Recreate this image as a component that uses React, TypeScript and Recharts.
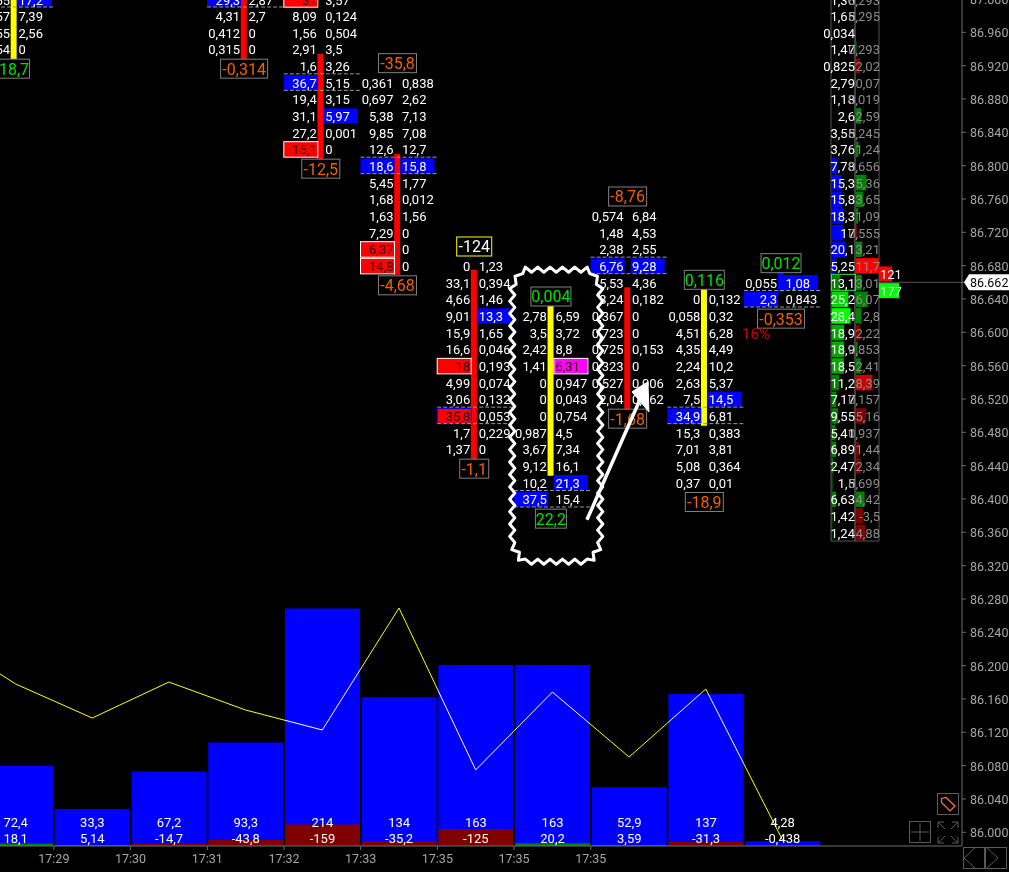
import React from "react";
import { ComposedChart, XAxis, YAxis, Bar, Line, Scatter, Cell, LabelList, ReferenceArea, ReferenceLine } from "recharts";

// ---------- axes ----------
const priceTicks = [86.0, 86.04, 86.08, 86.12, 86.16, 86.2, 86.24, 86.28, 86.32, 86.36, 86.4, 86.44, 86.48, 86.52, 86.56, 86.6, 86.64, 86.66, 86.68, 86.72, 86.76, 86.8, 86.84, 86.88, 86.92, 86.96, 87.0];
const lastPriceRow = 86.66;
const lastPriceText = "86.662";
const timeTicks = [0.5, 1.5, 2.5, 3.5, 4.5, 5.5, 6.5, 7.5];
const timeLabels = ["17:29", "17:30", "17:31", "17:32", "17:33", "17:35", "17:35", "17:35"];

// ---------- lower pane ----------
const cols = [0, 1, 2, 3, 4, 5, 6, 7, 8, 9, 10];
const volumes = [72.4, 33.3, 67.2, 93.3, 214, 134, 163, 163, 52.9, 137, 4.28];
const volumeText = ["72,4", "33,3", "67,2", "93,3", "214", "134", "163", "163", "52,9", "137", "4,28"];
const deltas = [18.1, 5.14, -14.7, -43.8, -159, -35.2, -125, 20.2, 3.59, -31.3, -0.438];
const deltaText = ["18,1", "5,14", "-14,7", "-43,8", "-159", "-35,2", "-125", "20,2", "3,59", "-31,3", "-0,438"];
const oscillator = [146, 115.3, 147.7, 122.5, 104.5, 214.4, 68.5, 138.7, 80.2, 141.4, 5.4];
const oscillatorAtEdge = 155;

// ---------- candles: [low, high] ----------
const wickLow = [86.928, null, null, 86.928, 86.808, 86.669, 86.448, 86.428, 86.508, 86.488, 86.648];
const wickHigh = [87.0, null, null, 87.0, 86.934, 86.814, 86.675, 86.634, 86.654, 86.654, 86.675];
const wickTone = ["yellow", "", "", "red", "red", "red", "red", "yellow", "red", "yellow", "blue"];

// ---------- footprint columns ----------
const col0Top = 87.0;
const col0Bid = ["1,55", "1,57", "1,55", "1,54"];
const col0Ask = ["17,2", "7,39", "2,56", "0"];
const col3Top = 87.0;
const col3Bid = ["29,3", "4,31", "0,412", "0,315"];
const col3Ask = ["2,87", "2,7", "0", "0"];
const col4Top = 87.0;
const col4Bid = ["31", "8,09", "1,56", "2,91", "1,6", "36,7", "19,4", "31,1", "27,2", "15,1"];
const col4Ask = ["3,57", "0,124", "0,504", "3,5", "3,26", "5,15", "3,15", "5,97", "0,001", "0"];
const col5Top = 86.9;
const col5Bid = ["0,361", "0,697", "5,38", "9,85", "12,6", "18,6", "5,45", "1,68", "1,63", "7,29", "6,37", "14,8"];
const col5Ask = ["0,838", "2,62", "7,13", "7,08", "12,7", "15,8", "1,77", "0,012", "1,56", "0", "0", "0"];
const col6Top = 86.68;
const col6Bid = ["0", "33,1", "4,66", "9,01", "15,9", "16,6", "18", "4,99", "3,06", "35,8", "1,7", "1,37"];
const col6Ask = ["1,23", "0,394", "1,46", "13,3", "1,65", "0,046", "0,193", "0,074", "0,132", "0,053", "0,229", "0"];
const col7Top = 86.62;
const col7Bid = ["2,78", "3,5", "2,42", "1,41", "0", "0", "0", "0,987", "3,67", "9,12", "10,2", "37,5"];
const col7Ask = ["6,59", "3,72", "8,8", "6,31", "0,947", "0,043", "0,754", "4,5", "7,34", "16,1", "21,3", "15,4"];
const col8Top = 86.74;
const col8Bid = ["0,574", "1,48", "2,38", "6,76", "5,53", "3,24", "0,367", "0,723", "0,725", "0,323", "0,527", "2,04"];
const col8Ask = ["6,84", "4,53", "2,55", "9,28", "4,36", "0,182", "0", "0", "0,153", "0", "0,006", "0,162"];
const col9Top = 86.64;
const col9Bid = ["0", "0,058", "4,51", "4,35", "2,24", "2,63", "7,5", "34,9", "15,3", "7,01", "5,08", "0,37"];
const col9Ask = ["0,132", "0,32", "6,28", "4,49", "10,2", "5,37", "14,5", "6,81", "0,383", "3,81", "0,364", "0,01"];
const col10Top = 86.66;
const col10Bid = ["0,055", "2,3"];
const col10Ask = ["1,08", "0,843"];

// [column, first price, bids, asks, point-of-control row]
const columnTable = [
  [0, col0Top, col0Bid, col0Ask, 0],
  [3, col3Top, col3Bid, col3Ask, 0],
  [4, col4Top, col4Bid, col4Ask, 5],
  [5, col5Top, col5Bid, col5Ask, 5],
  [6, col6Top, col6Bid, col6Ask, 9],
  [7, col7Top, col7Bid, col7Ask, 11],
  [8, col8Top, col8Bid, col8Ask, 3],
  [9, col9Top, col9Bid, col9Ask, 7],
  [10, col10Top, col10Bid, col10Ask, 1],
] as const;

// highlighted cells: "column:row:side" -> kind
const highlighted: Record<string, string> = {
  "0:0:a": "blue", "3:0:b": "blue", "4:0:b": "red", "4:5:b": "blue", "4:7:a": "blue", "4:9:b": "red",
  "5:5:b": "blue", "5:5:a": "blue", "5:10:b": "red", "5:11:b": "red",
  "6:3:a": "blue", "6:6:b": "red", "6:9:b": "redBlue",
  "7:3:a": "magenta", "7:10:a": "blue", "7:11:b": "blue",
  "8:3:b": "blue", "8:3:a": "blue", "9:6:a": "blue", "9:7:b": "blue",
  "10:0:a": "blue", "10:1:b": "blue",
};

const topBoxCols = [5, 6, 7, 8, 9, 10];
const topBoxPrices = [86.92, 86.7, 86.64, 86.76, 86.66, 86.68];
const topBoxText = ["-35,8", "-124", "0,004", "-8,76", "0,116", "0,012"];
const bottomBoxCols = [0, 3, 4, 5, 6, 7, 8, 9, 10];
const bottomBoxPrices = [86.92, 86.92, 86.8, 86.66, 86.44, 86.38, 86.5, 86.4, 86.62];
const bottomBoxText = ["18,7", "-0,314", "-12,5", "-4,68", "-1,1", "22,2", "-1,68", "-18,9", "-0,353"];

// ---------- right-hand session profile (87.00 downward) ----------
const profileTop = 87.0;
const profileLeft = ["1,36", "1,65", "0,034", "1,47", "0,825", "2,79", "1,18", "2,6", "3,55", "3,76", "7,78", "15,3", "15,8", "18,3", "17", "20,1", "5,25", "13,1", "25,2", "28,4", "18,9", "18,9", "18,5", "11,2", "7,17", "9,55", "5,41", "6,89", "2,47", "1,5", "6,63", "1,42", "1,24"];
const profileRight = ["0,293", "0,295", "", "0,293", "2,02", "0,07", "0,019", "2,59", "0,245", "1,24", "0,656", "5,36", "3,65", "1,09", "0,555", "3,21", "11,7", "3,01", "6,07", "2,8", "2,22", "0,853", "2,41", "8,39", "0,157", "5,16", "0,937", "1,44", "2,34", "0,699", "4,42", "-3,5", "4,88"];
const profileLeftSide = ["n", "n", "n", "n", "n", "n", "n", "n", "n", "n", "b", "b", "b", "b", "b", "b", "b", "g", "g", "g", "g", "g", "g", "g", "g", "g", "g", "g", "g", "g", "g", "g", "g"];
const profileRightSide = ["n", "n", "n", "g", "r", "n", "n", "g", "n", "g", "n", "g", "g", "g", "r", "g", "R", "g", "g", "g", "r", "g", "g", "M", "n", "r", "n", "r", "r", "n", "g", "r", "r"];
const profilePocRow = 17;
const sessionBid = "121";
const sessionAsk = "177";
const noteText = "16%";

// ---------- layout constants ----------
const W = 1009;
const H = 873;
const FONT = "Roboto, sans-serif";
const XMIN = -0.2021;
const XMAX = 12.34;
const WICK_SHIFT = 0.0196;
const YMIN = 85.98356;
const YMAX = 87.0;
const GREY = "#a6a6a6";
const AXIS = "#6e6e6e";
const PROFILE_X0 = 10.632;
const PROFILE_X1 = 10.945;
const PROFILE_X2 = 11.258;
const PROFILE_Y_BOTTOM = 86.3495;

const toneFill: Record<string, string> = { yellow: "#ffff00", red: "#ff0000", blue: "#0000ff", "": "none" };

const chartRows = cols.map((c, i) => ({
  col: c,
  volume: volumes[i],
  deltaAbs: Math.abs(deltas[i]),
  wick: wickLow[i] == null ? null : [wickLow[i], wickHigh[i]],
  tone: wickTone[i],
}));

const oscRows = [
  { col: XMIN, osc: oscillatorAtEdge },
  ...cols.map((c, i) => ({ col: c, osc: oscillator[i] })),
];

const footprintRows = columnTable.flatMap(([col, top, bids, asks, poc]) =>
  bids.map((bid, r) => ({
    col,
    price: +(top - r * 0.02).toFixed(2),
    bid,
    ask: asks[r],
    poc: r === poc,
    bidKind: highlighted[`${col}:${r}:b`] || "",
    askKind: highlighted[`${col}:${r}:a`] || "",
  }))
);

const boxRows = [
  ...topBoxCols.map((c, i) => ({ col: c, price: topBoxPrices[i], text: topBoxText[i], at: -2.5 })),
  ...bottomBoxCols.map((c, i) => ({ col: c, price: bottomBoxPrices[i], text: bottomBoxText[i], at: 3 })),
];

const profileRows = profileLeft.map((l, r) => ({
  col: PROFILE_X0,
  price: +(profileTop - r * 0.02).toFixed(2),
  left: l,
  right: profileRight[r],
  leftSide: profileLeftSide[r],
  rightSide: profileRightSide[r],
  poc: r === profilePocRow,
}));

const num = (s: string) => parseFloat(s.replace(",", ".")) || 0;

const Txt = (p: any) => (
  <text fontFamily={FONT} fontSize={13} fill="#fff" dominantBaseline="central" {...p} />
);

function FootprintCell({ cx, cy, payload }: any) {
  const c = cx - 1.5;
  const { bid, ask, poc, bidKind, askKind } = payload;
  const fill = (kind: string, x: number) => {
    if (!kind) return null;
    if (kind === "blue") return <rect x={x} y={cy - 7.3} width={34} height={15} fill="#0000ff" />;
    if (kind === "red") return <rect x={x} y={cy - 7.3} width={34} height={15.5} fill="#ff0000" stroke="#fff" />;
    if (kind === "redBlue") return <rect x={x} y={cy - 7.3} width={34} height={15} fill="#ff0000" stroke="#0000ff" />;
    return <rect x={x} y={cy - 7.3} width={34} height={15.5} fill="#ff00ff" stroke="#fff" />;
  };
  const dark = (k: string) => k === "red" || k === "redBlue" || k === "magenta";
  return (
    <g>
      {fill(bidKind, c - 37)}
      {fill(askKind, c + 3)}
      {poc && (
        <g stroke="#999" strokeDasharray="4 2">
          <line x1={c - 37} x2={c + 39} y1={cy - 8.5} y2={cy - 8.5} />
          <line x1={c - 37} x2={c + 39} y1={cy + 8} y2={cy + 8} />
        </g>
      )}
      <Txt x={c - 4} y={cy + 1} textAnchor="end" fill={dark(bidKind) ? "#300000" : "#fff"}>{bid}</Txt>
      <Txt x={c + 4.5} y={cy + 1} fill={dark(askKind) ? "#300000" : "#fff"}>{ask}</Txt>
    </g>
  );
}

const boxWidth = (t: string) =>
  [...t].reduce((w, ch) => w + (ch === "," ? 3 : ch === "-" ? 7 : 9), 1);

function DeltaBox({ cx, cy, payload }: any) {
  const c = cx - 1.5;
  const { text, at } = payload;
  const w = boxWidth(text);
  const neg = text.startsWith("-");
  const isTotal = text === "-124";
  return (
    <g>
      <rect x={c - w / 2} y={cy + at - 9.5} width={w} height={19} fill="#000" stroke={isTotal ? "#ffff00" : "#808080"} />
      <text x={c} y={cy + at + 0.5} textAnchor="middle" dominantBaseline="central" fontFamily={FONT} fontSize={16}
        fill={isTotal ? "#fff" : neg ? "#f06000" : "#00e000"}>{text}</text>
    </g>
  );
}

const rightFill: Record<string, string> = { g: "#008000", r: "#800000", R: "#ff0000", M: "#c80000" };
const leftFill = (side: string, v: number) =>
  side === "b" ? "#0000ff" : v >= 28 ? "#00ff00" : v >= 25 ? "#00d800" : v >= 18 ? "#00a800" : "#008000";

function ProfileRow({ cx, cy, payload }: any) {
  const { left, right, leftSide, rightSide, poc } = payload;
  return (
    <g>
      {leftSide !== "n" && <rect x={cx + 0.5} y={cy - 7.5} width={num(left) * 0.67} height={15.5} fill={leftFill(leftSide, num(left))} />}
      {rightSide !== "n" && <rect x={cx + 25} y={cy - 7.5} width={Math.abs(num(right)) * 1.95} height={15.5} fill={rightFill[rightSide]} />}
      {poc && <rect x={cx + 0.5} y={cy - 8} width={24} height={16} fill="none" stroke="#40e040" />}
      <Txt x={cx + 24} y={cy + 1} textAnchor="end">{left}</Txt>
      <Txt x={cx + 49} y={cy + 1} textAnchor="end" fill="#8c8c8c">{right}</Txt>
    </g>
  );
}

function SessionCell({ cx, cy, payload }: any) {
  const red = payload.kind === "bid";
  return (
    <g>
      <rect x={cx} y={cy - 7.5} width={red ? 13 : 20} height={15} fill={red ? "#ff0000" : "#00ff00"} />
      <Txt x={cx + 1} y={cy + 1}>{payload.text}</Txt>
    </g>
  );
}

function NoteMark({ cx, cy, payload }: any) {
  return (
    <text x={cx - 26.5} y={cy + 1.5} textAnchor="middle" dominantBaseline="central" fontFamily={FONT} fontSize={15} fill="#c80000">
      {payload.text}
    </text>
  );
}

const octagon = [[-34, -146], [34, -146], [44, -130], [44, 130], [34, 146], [-34, 146], [-44, 130], [-44, -130]];

function zigzagPath(step: number, amp: number) {
  const pts: string[] = [];
  let sign = 1;
  octagon.forEach(([x0, y0], i) => {
    const [x1, y1] = octagon[(i + 1) % octagon.length];
    const len = Math.hypot(x1 - x0, y1 - y0);
    const n = Math.max(1, Math.round(len / step));
    for (let j = 0; j < n; j++) {
      const t = (j + 0.5) / n;
      const nx = (y1 - y0) / len;
      const ny = -(x1 - x0) / len;
      pts.push(`${(x0 + (x1 - x0) * t + nx * amp * sign).toFixed(1)} ${(y0 + (y1 - y0) * t + ny * amp * sign).toFixed(1)}`);
      sign = -sign;
    }
  });
  return "M" + pts.join("L") + "Z";
}

function ZigzagFrame({ cx, cy }: any) {
  return <path transform={`translate(${cx},${cy})`} d={zigzagPath(6.2, 2.6)} fill="none" stroke="#fff" strokeWidth={3} strokeLinejoin="round" />;
}

function ArrowMark({ cx, cy }: any) {
  return (
    <g transform={`translate(${cx},${cy})`}>
      <line x1={0} y1={0} x2={53} y2={-120} stroke="#fff" strokeWidth={3.5} />
      <polygon points="61,-138 45,-128 62,-108" fill="#fff" stroke="#fff" />
    </g>
  );
}

function PriceTick({ x, y, payload }: any) {
  const v = payload.value;
  if (Math.abs(v - lastPriceRow) < 1e-6) {
    return (
      <g>
        <polygon points={`${x - 4},${y} ${x + 1},${y - 8} 1012,${y - 8} 1012,${y + 8} ${x + 1},${y + 8}`} fill="#fff" />
        <text x={x + 2} y={y + 0.5} dominantBaseline="central" fontFamily={FONT} fontSize={12.5} fill="#000">{lastPriceText}</text>
      </g>
    );
  }
  return (
    <text x={x + 2} y={y + 0.5} dominantBaseline="central" fontFamily={FONT} fontSize={12.5} fill={GREY}>{v.toFixed(3)}</text>
  );
}

function TimeTick({ x, y, index }: any) {
  return (
    <text x={x} y={y + 6} textAnchor="middle" dominantBaseline="central" fontFamily={FONT} fontSize={12.5} fill={GREY}>{timeLabels[index]}</text>
  );
}

function BottomLabels({ x, y, width, height, index }: any) {
  if (x == null) return null;
  const cx = x + width / 2;
  const base = y + height;
  return (
    <g>
      <Txt x={cx} y={base - 24} textAnchor="middle">{volumeText[index]}</Txt>
      <Txt x={cx} y={base - 8} textAnchor="middle">{deltaText[index]}</Txt>
    </g>
  );
}

const hiddenX = (id: string, shift = 0) => (
  <XAxis xAxisId={id} dataKey="col" type="number" domain={[XMIN + shift, XMAX + shift]} height={0} hide allowDataOverflow />
);

function Controls() {
  const s = "#5a5a5a";
  return (
    <svg width={W} height={872} style={{ position: "absolute", left: 0, top: 0, pointerEvents: "none" }}>
      <rect x={937.5} y={793.5} width={21} height={21} fill="none" stroke={s} />
      <path d="M941.5 798.5 L946 797.5 L955 806 L950 811 L941.5 802.5 Z" fill="none" stroke="#ff7a3c" strokeWidth={1.2} />
      <rect x={909.5} y={821.5} width={21} height={21} fill="none" stroke={s} />
      <path d="M920 823 V841 M911 832 H929" stroke={s} />
      <path d="M938 828 V822 H944 M952 822 H958 V828 M938 837 V843 H944 M952 843 H958 V837 M938 822 L945 829 M958 822 L951 829 M938 843 L945 836 M958 843 L951 836" fill="none" stroke={s} />
      <rect x={963.5} y={847.5} width={21} height={21} fill="none" stroke={s} />
      <rect x={985.5} y={847.5} width={21} height={21} fill="none" stroke={s} />
      <path d="M975 848 L964 858 L975 868 M987 848 L998 858 L987 868" fill="none" stroke={s} />
    </svg>
  );
}

export default function App() {
  return (
    <div style={{ position: "absolute", left: 0, top: 0, width: W, height: 872, background: "#000", overflow: "hidden" }}>
      <div style={{ position: "absolute", left: 0, top: -1 }}>
        <ComposedChart width={W} height={H} data={chartRows} margin={{ top: 0, right: 0, bottom: 0, left: 0 }}>
          <XAxis
            xAxisId="main"
            dataKey="col"
            type="number"
            domain={[XMIN, XMAX]}
            ticks={timeTicks}
            interval={0}
            height={26}
            tickSize={4}
            axisLine={{ stroke: AXIS }}
            tickLine={{ stroke: AXIS }}
            tick={<TimeTick />}
          />
          {hiddenX("volX")}
          {hiddenX("deltaX")}
          {hiddenX("wickX", WICK_SHIFT)}
          <YAxis
            yAxisId="price"
            orientation="right"
            width={47}
            domain={[YMIN, YMAX]}
            ticks={priceTicks}
            interval={0}
            tickSize={4}
            axisLine={{ stroke: AXIS }}
            tickLine={{ stroke: AXIS }}
            tick={<PriceTick />}
          />
          <YAxis yAxisId="vol" domain={[0, 763]} width={0} hide allowDataOverflow />
          <YAxis yAxisId="deltaAxis" domain={[0, 6274]} width={0} hide allowDataOverflow />

          <Bar xAxisId="volX" yAxisId="vol" dataKey="volume" barSize={75} fill="#0000ff" isAnimationActive={false} />
          <Bar xAxisId="deltaX" yAxisId="deltaAxis" dataKey="deltaAbs" barSize={75} minPointSize={1} isAnimationActive={false}>
            {chartRows.map((_, i) => (
              <Cell key={i} fill={deltas[i] < 0 ? "#800000" : "#008000"} />
            ))}
            <LabelList dataKey="deltaAbs" content={<BottomLabels />} />
          </Bar>
          <Line
            xAxisId="main"
            yAxisId="vol"
            data={oscRows}
            dataKey="osc"
            stroke="#ffff00"
            strokeWidth={1}
            dot={false}
            activeDot={false}
            type="linear"
            isAnimationActive={false}
            style={{ mixBlendMode: "screen" }}
          />

          <ReferenceLine
            xAxisId="main"
            yAxisId="price"
            segment={[{ x: PROFILE_X2, y: lastPriceRow }, { x: XMAX, y: lastPriceRow }]}
            stroke="#555"
          />
          <ReferenceArea xAxisId="main" yAxisId="price" x1={PROFILE_X0} x2={PROFILE_X1} y1={PROFILE_Y_BOTTOM} y2={YMAX} fill="none" stroke="#555" />
          <ReferenceArea xAxisId="main" yAxisId="price" x1={PROFILE_X1} x2={PROFILE_X2} y1={PROFILE_Y_BOTTOM} y2={YMAX} fill="none" stroke="#555" />

          <Scatter xAxisId="main" yAxisId="price" data={footprintRows} dataKey="price" shape={<FootprintCell />} isAnimationActive={false} />
          <Bar xAxisId="wickX" yAxisId="price" dataKey="wick" barSize={6} isAnimationActive={false}>
            {chartRows.map((r, i) => (
              <Cell key={i} fill={toneFill[r.tone]} />
            ))}
          </Bar>
          <Scatter xAxisId="main" yAxisId="price" data={boxRows} dataKey="price" shape={<DeltaBox />} isAnimationActive={false} />
          <Scatter xAxisId="main" yAxisId="price" data={profileRows} dataKey="price" shape={<ProfileRow />} isAnimationActive={false} />
          <Scatter
            xAxisId="main"
            yAxisId="price"
            data={[
              { col: PROFILE_X2, price: 86.67, text: sessionBid, kind: "bid" },
              { col: PROFILE_X2, price: 86.65, text: sessionAsk, kind: "ask" },
            ]}
            dataKey="price"
            shape={<SessionCell />}
            isAnimationActive={false}
          />
          <Scatter xAxisId="main" yAxisId="price" data={[{ col: 10, price: 86.6, text: noteText }]} dataKey="price" shape={<NoteMark />} isAnimationActive={false} />
          <Scatter xAxisId="main" yAxisId="price" data={[{ col: 7.05, price: 86.5 }]} dataKey="price" shape={<ZigzagFrame />} isAnimationActive={false} />
          <Scatter xAxisId="main" yAxisId="price" data={[{ col: 7.45, price: 86.375 }]} dataKey="price" shape={<ArrowMark />} isAnimationActive={false} />
        </ComposedChart>
      </div>
      <Controls />
    </div>
  );
}
